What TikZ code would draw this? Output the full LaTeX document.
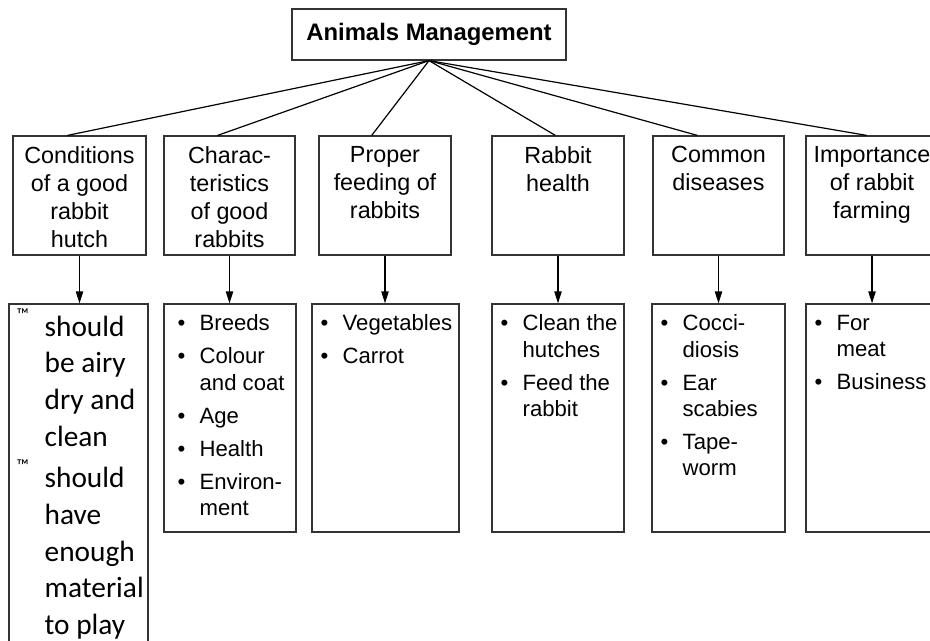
\documentclass[tikz,border=0pt]{standalone}
\usepackage{fontspec}
\setmainfont{Liberation Sans}
\newfontfamily\carl{Carlito}
\usetikzlibrary{arrows.meta,calc}
\newcommand{\itm}{\makebox[16.5pt][l]{•}}
\newcommand{\ind}{\hspace*{16.5pt}}
\newcommand{\tmk}{\makebox[21pt][l]{\raisebox{12pt}[0pt][0pt]{\fontsize{13}{13}\selectfont ™}}}
\newcommand{\tind}{\hspace*{21pt}}
\begin{document}
\begin{tikzpicture}[x=0.75pt,y=-0.75pt,
  tbox/.style={draw=black!80, line width=0.9pt, inner sep=0pt,
    minimum width=205.5pt, minimum height=38.25pt,
    font=\bfseries\fontsize{17.9}{21}\selectfont},
  cbox/.style={draw=black!80, line width=0.9pt, inner sep=0pt, minimum height=89.25pt},
  lbox/.style={draw=black!80, line width=0.9pt, inner sep=0pt, minimum height=171pt},
  ctext/.style={anchor=north, inner sep=0pt, align=center,
    font=\fontsize{17.5}{21}\selectfont},
  ltext/.style={anchor=north west, inner sep=0pt, align=left,
    font=\fontsize{16.6}{19.75}\selectfont},
  ktext/.style={anchor=north west, inner sep=0pt, align=left,
    font=\carl\fontsize{22}{27.5}\selectfont},
  link/.style={line width=0.9pt, black},
  arr/.style={line width=0.9pt, black, -{Triangle[length=9pt,width=5.5pt]}}]
\clip (0,0) rectangle (930,641);
\fill[white] (0,0) rectangle (930,641);

% top
\node[tbox] (top) at (429,34.5) {Animals Management};

% level 2 boxes
\node[cbox, minimum width=99.75pt] (c1) at (79.5,195.5) {};
\node[cbox, minimum width=98.25pt] (c2) at (229.5,195.5) {};
\node[cbox, minimum width=99pt] (c3) at (385,195.5) {};
\node[cbox, minimum width=99pt] (c4) at (558,195.5) {};
\node[cbox, minimum width=98.25pt] (c5) at (718.5,195.5) {};
\node[cbox, minimum width=99pt] (c6) at (872,195.5) {};

\node[ctext] (t1) at ([yshift=-8pt]c1.north) {Conditions\\of a good\\rabbit\\hutch};
\node[ctext] (t2) at ([yshift=-8pt]c2.north) {Charac-\\teristics\\of good\\rabbits};
\node[ctext] (t3) at ([yshift=-8pt]c3.north) {Proper\\feeding of\\rabbits};
\node[ctext] (t4) at ([yshift=-8pt]c4.north) {Rabbit\\health};
\node[ctext] (t5) at ([yshift=-8pt]c5.north) {Common\\diseases};
\node[ctext] (t6) at ([yshift=-8pt]c6.north) {Importance\\of rabbit\\farming};

% level 3 boxes
\node[draw=black!80, line width=0.9pt, inner sep=0pt, minimum width=104.25pt, minimum height=297pt] (l1) at (78.5,502) {};
\node[lbox, minimum width=99pt] (l2) at (230,418) {};
\node[lbox, minimum width=110.25pt] (l3) at (385.5,418) {};
\node[lbox, minimum width=99pt] (l4) at (558,418) {};
\node[lbox, minimum width=99.75pt] (l5) at (718.5,418) {};
\node[lbox, minimum width=99pt] (l6) at (872,418) {};

\node[ktext] (s1) at ([xshift=6pt,yshift=-9pt]l1.north west)
  {\tmk should\\\tind be airy\\\tind dry and\\\tind clean\\[3.75pt]\tmk should\\\tind have\\\tind enough\\\tind material\\\tind to play};
\node[ltext] (s2) at ([xshift=10.5pt,yshift=-8.4pt]l2.north west)
  {\itm Breeds\\[5pt]\itm Colour\\\ind and coat\\[5pt]\itm Age\\[5pt]\itm Health\\[5pt]\itm Environ-\\\ind ment};
\node[ltext] (s3) at ([xshift=6.75pt,yshift=-8.4pt]l3.north west)
  {\itm Vegetables\\[5pt]\itm Carrot};
\node[ltext] (s4) at ([xshift=6.75pt,yshift=-8.4pt]l4.north west)
  {\itm Clean the\\\ind hutches\\[5pt]\itm Feed the\\\ind rabbit};
\node[ltext] (s5) at ([xshift=6.75pt,yshift=-8.4pt]l5.north west)
  {\itm Cocci-\\\ind diosis\\[5pt]\itm Ear\\\ind scabies\\[5pt]\itm Tape-\\\ind worm};
\node[ltext] (s6) at ([xshift=6.75pt,yshift=-8.4pt]l6.north west)
  {\itm For\\\ind meat\\[5pt]\itm Business};

% links from top
\draw[link] (top.south) -- ($(c1.north west)!0.41!(c1.north east)$);
\draw[link] (top.south) -- ($(c2.north west)!0.41!(c2.north east)$);
\draw[link] (top.south) -- ($(c3.north west)!0.40!(c3.north east)$);
\draw[link] (top.south) -- ($(c4.north west)!0.48!(c4.north east)$);
\draw[link] (top.south) -- ($(c5.north west)!0.34!(c5.north east)$);
\draw[link] (top.south) -- ($(c6.north west)!0.46!(c6.north east)$);

% arrows down
\draw[arr] (c1.south) -- (c1.south |- l1.north);
\draw[arr] (c2.south) -- (c2.south |- l2.north);
\draw[arr] (c3.south) -- (c3.south |- l3.north);
\draw[arr] (c4.south) -- (c4.south |- l4.north);
\draw[arr] (c5.south) -- (c5.south |- l5.north);
\draw[arr] (c6.south) -- (c6.south |- l6.north);
\end{tikzpicture}
\end{document}
